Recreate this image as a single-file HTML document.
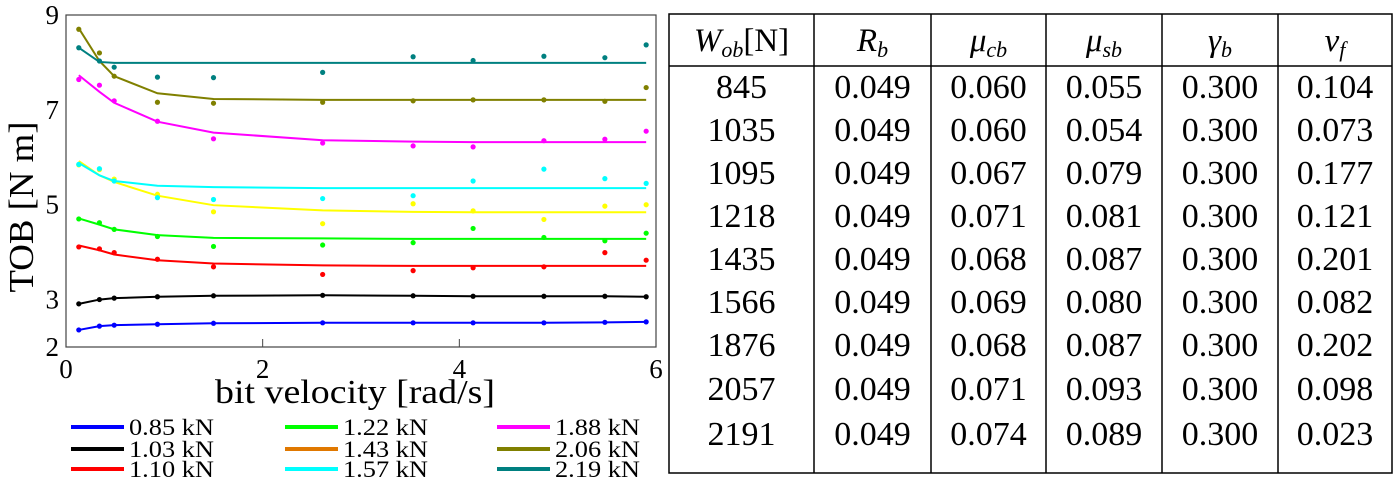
<!DOCTYPE html>
<html><head><meta charset="utf-8">
<style>
body{margin:0;background:#fff;width:1394px;height:487px;overflow:hidden;font-family:"Liberation Serif",serif;}
svg text{font-family:"Liberation Serif",serif;fill:#000;}
</style></head>
<body>
<svg id="chart" width="1394" height="487" style="position:absolute;left:0;top:0">
</svg>
<script>
const categories = [0.13,0.34,0.49,0.93,1.5,2.61,3.53,4.14,4.86,5.48,5.9];
const seriesLabels = ["0.85 kN","1.03 kN","1.10 kN","1.22 kN","1.43 kN","1.57 kN","1.88 kN","2.06 kN","2.19 kN"];
const seriesColors = ["#0000ff","#000000","#ff0000","#00ff00","#e07800","#00ffff","#ff00ff","#808000","#008080"];
const blueLine=[2.36,2.44,2.46,2.48,2.50,2.51,2.51,2.51,2.51,2.52,2.53];
const blueObs=[2.36,2.44,2.46,2.48,2.50,2.51,2.51,2.51,2.51,2.52,2.53];
const blackLine=[2.91,3.00,3.03,3.06,3.08,3.09,3.08,3.07,3.07,3.07,3.06];
const blackObs=[2.91,3.00,3.03,3.06,3.08,3.09,3.08,3.07,3.07,3.07,3.06];
const redLine=[4.14,4.04,3.95,3.83,3.76,3.72,3.71,3.71,3.71,3.71,3.71];
const redObs=[4.11,4.07,3.99,3.85,3.69,3.53,3.61,3.67,3.69,3.99,3.83];
const greenLine=[4.71,4.58,4.48,4.36,4.30,4.29,4.28,4.28,4.28,4.28,4.28];
const greenObs=[4.70,4.62,4.48,4.33,4.12,4.15,4.20,4.50,4.31,4.24,4.40];
const yellowLine=[5.92,5.62,5.48,5.19,4.99,4.88,4.85,4.84,4.84,4.84,4.84];
const yellowObs=[5.84,5.74,5.54,5.22,4.85,4.60,5.02,4.87,4.69,4.97,5.00];
const cyanLine=[5.88,5.62,5.50,5.40,5.37,5.35,5.35,5.35,5.35,5.35,5.35];
const cyanObs=[5.85,5.76,5.50,5.15,5.11,5.13,5.19,5.50,5.75,5.55,5.45];
const magentaLine=[7.73,7.38,7.15,6.75,6.52,6.36,6.33,6.32,6.32,6.32,6.32];
const magentaObs=[7.64,7.52,7.19,6.76,6.39,6.30,6.24,6.22,6.35,6.38,6.55];
const oliveLine=[8.72,8.03,7.71,7.35,7.23,7.21,7.21,7.21,7.21,7.21,7.21];
const oliveObs=[8.70,8.20,7.71,7.16,7.14,7.16,7.19,7.21,7.21,7.18,7.47];
const tealLine=[8.31,8.01,7.99,7.99,7.99,7.99,7.99,7.99,7.99,7.99,7.99];
const tealObs=[8.31,8.03,7.90,7.69,7.68,7.79,8.12,8.04,8.13,8.10,8.37];
const xTicks=[0,2,4,6];
const yTicks=[2,3,5,7,9];

const series=[
 {name:"0.85",color:"#0000ff",line:blueLine,obs:blueObs},
 {name:"1.03",color:"#000000",line:blackLine,obs:blackObs},
 {name:"1.10",color:"#ff0000",line:redLine,obs:redObs},
 {name:"1.22",color:"#00ff00",line:greenLine,obs:greenObs},
 {name:"1.57-yellow",color:"#ffff00",line:yellowLine,obs:yellowObs},
 {name:"1.57",color:"#00ffff",line:cyanLine,obs:cyanObs},
 {name:"1.88",color:"#ff00ff",line:magentaLine,obs:magentaObs},
 {name:"2.06",color:"#808000",line:oliveLine,obs:oliveObs},
 {name:"2.19",color:"#008080",line:tealLine,obs:tealObs}
];
const L=66,R=656,T=15,B=347;
const xs=v=>L+(v-0)/6*(R-L);
const ys=v=>B-(v-2)/7*(B-T);
const NS="http://www.w3.org/2000/svg";
const svg=document.getElementById('chart');
function mk(tag,attrs,parent){const e=document.createElementNS(NS,tag);for(const k in attrs)e.setAttribute(k,attrs[k]);(parent||svg).appendChild(e);return e;}

const box=mk('rect',{x:L,y:T,width:R-L,height:B-T,fill:'none',stroke:'#444','stroke-width':1.2});



xTicks.forEach(t=>{
 const tk=mk('line',{x1:xs(t),x2:xs(t),y1:B,y2:B-8,stroke:'#444'});
 
 
 const tx=mk('text',{x:xs(t),y:378,'font-size':27,'text-anchor':'middle'});
 tx.textContent=t;
 
 
});
yTicks.forEach(t=>{
 const tx=mk('text',{x:L-7,y:ys(t)+9,'font-size':27,'text-anchor':'end'});
 tx.textContent=t;
 
 
});
const yl=mk('text',{x:0,y:0,'font-size':35,'text-anchor':'middle',textLength:171,lengthAdjust:'spacingAndGlyphs',transform:'translate(33,207) rotate(-90)'});
yl.textContent='TOB [N m]';


const xl=mk('text',{x:355,y:403,'font-size':34,'text-anchor':'middle',textLength:280,lengthAdjust:'spacingAndGlyphs'});
xl.textContent='bit velocity [rad/s]';



series.forEach(s=>{
 const p=mk('polyline',{points:categories.map((c,i)=>xs(c)+','+ys(s.line[i])).join(' '),fill:'none',stroke:s.color,'stroke-width':2});
 
 
 categories.forEach((c,i)=>{
  const d=mk('circle',{cx:xs(c),cy:ys(s.obs[i]),r:2.6,fill:s.color});
  
  
 });
});

const legX=[71,285,497], legY=[427,449,469];
seriesLabels.forEach((lab,i)=>{
 const col=Math.floor(i/3), row=i%3;
 const ln=mk('line',{x1:legX[col],x2:legX[col]+53,y1:legY[row],y2:legY[row],stroke:seriesColors[i],'stroke-width':4});
 
 
 const t=mk('text',{x:legX[col]+58,y:legY[row]+8,'font-size':23,textLength:85,lengthAdjust:'spacingAndGlyphs'});
 t.textContent=lab;
 
 
});

// table
const tcols=[669,814,931,1046,1162,1278,1392];
const rowsY=[86,129,172,215,258,301,344,388,433];
const tableRows=[["845","0.049","0.060","0.055","0.300","0.104"],["1035","0.049","0.060","0.054","0.300","0.073"],["1095","0.049","0.067","0.079","0.300","0.177"],["1218","0.049","0.071","0.081","0.300","0.121"],["1435","0.049","0.068","0.087","0.300","0.201"],["1566","0.049","0.069","0.080","0.300","0.082"],["1876","0.049","0.068","0.087","0.300","0.202"],["2057","0.049","0.071","0.093","0.300","0.098"],["2191","0.049","0.074","0.089","0.300","0.023"]];
const tb=mk('rect',{x:669,y:14,width:723,height:459,fill:'none',stroke:'#000','stroke-width':1.5});


const hl=mk('line',{x1:669,x2:1392,y1:66,y2:66,stroke:'#000','stroke-width':1.5});


for(let i=1;i<6;i++){
 const v=mk('line',{x1:tcols[i],x2:tcols[i],y1:14,y2:473,stroke:'#000','stroke-width':1.5});
 
 
}
const headers=[["W","ob","[N]"],["R","b",""],["μ","cb",""],["μ","sb",""],["γ","b",""],["ν","f",""]];
headers.forEach((h,i)=>{
 const cx=(tcols[i]+tcols[i+1])/2;
 const t=mk('text',{x:cx,y:51,'font-size':33,'text-anchor':'middle','font-style':'italic'});
 
 
 const a=mk('tspan',{},t);a.textContent=h[0];
 const b=mk('tspan',{'font-size':22,dy:6},t);b.textContent=h[1];
 if(h[2]){const c=mk('tspan',{dy:-6,'font-style':'normal'},t);c.textContent=h[2];}
});
tableRows.forEach((r,ri)=>{
 r.forEach((v,ci)=>{
  const cx=(tcols[ci]+tcols[ci+1])/2;
  const t=mk('text',{x:cx,y:rowsY[ri]+12,'font-size':34,'text-anchor':'middle'});
  t.textContent=v;
  
  
 });
});
</script>
</body></html>
